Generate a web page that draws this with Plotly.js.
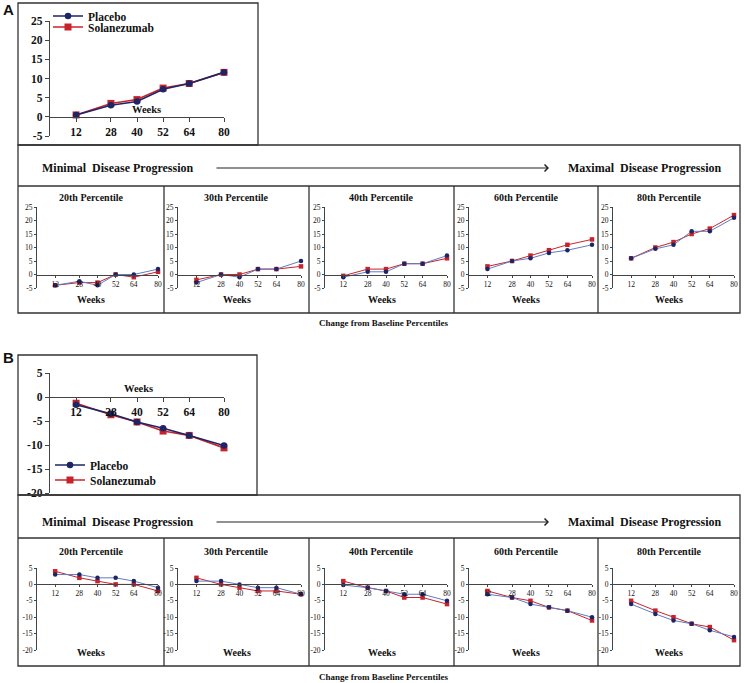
<!DOCTYPE html>
<html>
<head>
<meta charset="utf-8">
<script src="https://cdn.plot.ly/plotly-3.0.1.min.js"></script>
<style>html,body{margin:0;padding:0;background:#fff;}#chart{width:745px;height:683px;}</style>
</head>
<body>
<div id="chart"></div>
<script>
// ---------------- DATA ----------------
var weeks = [12, 28, 40, 52, 64, 80];
var seriesNames = ['Placebo', 'Solanezumab'];
var percentileTitles = ['20th Percentile', '30th Percentile', '40th Percentile', '60th Percentile', '80th Percentile'];

// Panel A (increasing)
var A_main_placebo = [0.5, 3.0, 4.0, 7.2, 8.7, 11.6];
var A_main_solan   = [0.5, 3.5, 4.5, 7.5, 8.7, 11.6];
var A_p20_placebo = [-4, -2.5, -4, 0, 0, 2];
var A_p20_solan   = [-4, -3, -3, 0, -1, 1];
var A_p30_placebo = [-3, 0, -1, 2, 2, 5];
var A_p30_solan   = [-2, 0, 0, 2, 2, 3];
var A_p40_placebo = [-1, 1, 1, 4, 4, 7];
var A_p40_solan   = [-0.5, 2, 2, 4, 4, 6];
var A_p60_placebo = [2, 5, 6, 8, 9, 11];
var A_p60_solan   = [3, 5, 7, 9, 11, 13];
var A_p80_placebo = [6, 9.5, 11, 16, 16, 21];
var A_p80_solan   = [6, 10, 12, 15, 17, 22];

// Panel B (decreasing)
var B_main_placebo = [-1.6, -3.5, -5.2, -6.5, -8.0, -10.1];
var B_main_solan   = [-1.3, -3.7, -5.2, -7.1, -8.0, -10.6];
var B_p20_placebo = [3, 3, 2, 2, 1, -1];
var B_p20_solan   = [4, 2, 1, 0, 0, -2];
var B_p30_placebo = [1, 1, 0, -1, -1, -3];
var B_p30_solan   = [2, 0, -1, -2, -2, -3];
var B_p40_placebo = [-0.2, -1, -2, -3, -3, -5];
var B_p40_solan   = [1, -1, -2, -4, -4, -6];
var B_p60_placebo = [-3, -4, -6, -7, -8, -10];
var B_p60_solan   = [-2, -4, -5, -7, -8, -11];
var B_p80_placebo = [-6, -9, -11, -12, -14, -16];
var B_p80_solan   = [-5, -8, -10, -12, -13, -17];

var A_small_placebo = [A_p20_placebo, A_p30_placebo, A_p40_placebo, A_p60_placebo, A_p80_placebo];
var A_small_solan   = [A_p20_solan, A_p30_solan, A_p40_solan, A_p60_solan, A_p80_solan];
var B_small_placebo = [B_p20_placebo, B_p30_placebo, B_p40_placebo, B_p60_placebo, B_p80_placebo];
var B_small_solan   = [B_p20_solan, B_p30_solan, B_p40_solan, B_p60_solan, B_p80_solan];

// ---------------- LAYOUT HELPERS ----------------
var W = 745, H = 683;
function px(x) { return x / W; }
function py(y) { return 1 - y / H; }
function xd(a, b) { return [px(a), px(b)]; }
function yd(top, bottom) { return [py(bottom), py(top)]; }

var NAVY = '#1c2566';
var RED = '#c8232b';
var LIGHTBLUE = '#5f7dc0';
var AXC = '#444';
var SERIF = 'Liberation Serif, Times New Roman, serif';

var smallX = [[37, 158], [178, 301], [325, 447], [469, 592], [613, 734]];
var panelL = [18, 164, 309, 454, 598, 740];

var traces = [];
var layout = {
  width: W, height: H, autosize: false,
  margin: {l: 0, r: 0, t: 0, b: 0},
  paper_bgcolor: '#fff', plot_bgcolor: 'rgba(0,0,0,0)',
  showlegend: true,
  shapes: [], annotations: [],
  font: {family: SERIF, color: '#111'}
};

var axisCount = 0;
function addAxes(xPix, yTop, yBottom, yRange, yTicks, big) {
  axisCount++;
  var n = axisCount;
  var xk = n === 1 ? 'xaxis' : 'xaxis' + n;
  var yk = n === 1 ? 'yaxis' : 'yaxis' + n;
  var xid = n === 1 ? 'x' : 'x' + n;
  var yid = n === 1 ? 'y' : 'y' + n;
  var zeroPix = yTop + (yRange[1] - 0) / (yRange[1] - yRange[0]) * (yBottom - yTop);
  layout[xk] = {
    domain: xd(xPix[0], xPix[1]), range: [0, 80], anchor: 'free', position: py(zeroPix),
    showgrid: false, zeroline: false, showline: true, linecolor: AXC, linewidth: big ? 1.3 : 1,
    ticks: 'outside', ticklen: big ? 4 : 2, tickcolor: AXC, tickwidth: 1,
    tickmode: 'array', tickvals: weeks, ticktext: weeks.map(String),
    tickfont: {family: SERIF, size: big ? 11.5 : 7.5, color: '#111', weight: big ? 'bold' : 'normal'},
    fixedrange: true
  };
  layout[yk] = {
    domain: yd(yTop, yBottom), range: yRange, anchor: xid,
    showgrid: false, zeroline: false, showline: true, linecolor: AXC, linewidth: big ? 1.3 : 1,
    ticks: 'outside', ticklen: big ? 4 : 2, tickcolor: AXC, tickwidth: 1,
    tickmode: 'array', tickvals: yTicks, ticktext: yTicks.map(String),
    tickfont: {family: SERIF, size: big ? 11.5 : 7.5, color: '#111', weight: big ? 'bold' : 'normal'},
    fixedrange: true
  };
  return {x: xid, y: yid};
}

function addMainTraces(ax, placebo, solan, legP, legS) {
  traces.push({
    x: weeks, y: solan, xaxis: ax.x, yaxis: ax.y, name: seriesNames[1], legend: legS,
    mode: 'lines+markers', line: {color: RED, width: 1.6},
    marker: {symbol: 'square', size: 7, color: RED}, cliponaxis: false
  });
  traces.push({
    x: weeks, y: placebo, xaxis: ax.x, yaxis: ax.y, name: seriesNames[0], legend: legP,
    mode: 'lines+markers', line: {color: NAVY, width: 1.6},
    marker: {symbol: 'circle', size: 6.5, color: NAVY}, cliponaxis: false
  });
}
function addSmallTraces(ax, placebo, solan) {
  traces.push({
    x: weeks, y: solan, xaxis: ax.x, yaxis: ax.y, name: seriesNames[1], showlegend: false,
    mode: 'lines+markers', line: {color: RED, width: 1},
    marker: {symbol: 'square', size: 4.5, color: RED}, cliponaxis: false
  });
  traces.push({
    x: weeks, y: placebo, xaxis: ax.x, yaxis: ax.y, name: seriesNames[0], showlegend: false,
    mode: 'lines+markers', line: {color: LIGHTBLUE, width: 1},
    marker: {symbol: 'circle', size: 4.5, color: NAVY}, cliponaxis: false
  });
}

function box(x0, y0, x1, y1, w) {
  layout.shapes.push({type: 'rect', xref: 'paper', yref: 'paper',
    x0: px(x0), x1: px(x1), y0: py(y1), y1: py(y0),
    line: {color: '#333', width: w || 1.3}, fillcolor: 'rgba(0,0,0,0)'});
}
function vline(x, y0, y1) {
  layout.shapes.push({type: 'line', xref: 'paper', yref: 'paper',
    x0: px(x), x1: px(x), y0: py(y0), y1: py(y1), line: {color: '#333', width: 1.3}});
}
function hline(x0, x1, y) {
  layout.shapes.push({type: 'line', xref: 'paper', yref: 'paper',
    x0: px(x0), x1: px(x1), y0: py(y), y1: py(y), line: {color: '#333', width: 1.3}});
}
function text(t, x, y, size, opts) {
  opts = opts || {};
  layout.annotations.push({
    text: t, xref: 'paper', yref: 'paper', x: px(x), y: py(y),
    xanchor: opts.xanchor || 'center', yanchor: 'middle', showarrow: false,
    font: {family: opts.family || SERIF, size: size, color: '#111', weight: opts.weight || 'bold'}
  });
}

// ---------------- PANEL A ----------------
text('A', 8, 9, 15, {family: 'Liberation Sans, Arial, sans-serif'});
box(18, 3, 258, 145);
var axA = addAxes([50, 224], 21, 136, [-5, 25], [-5, 0, 5, 10, 15, 20, 25], true);
addMainTraces(axA, A_main_placebo, A_main_solan, 'legend', 'legend2');
text('Weeks', 146, 110, 10.5);

box(18, 145, 740, 313);
hline(18, 740, 186);
for (var i = 1; i < 5; i++) vline(panelL[i], 186, 313);
text('Minimal  Disease Progression', 118, 168, 12);
text('Maximal  Disease Progression', 645, 168, 12);
layout.annotations.push({text: '', xref: 'paper', yref: 'paper', x: px(549), y: py(168),
  ax: -334, ay: 0, showarrow: true, arrowhead: 4, arrowsize: 1.1, arrowwidth: 1.2, arrowcolor: '#222', standoff: 0});
for (var k = 0; k < 5; k++) {
  var ax = addAxes(smallX[k], 207, 288, [-5, 25], [-5, 0, 5, 10, 15, 20, 25], false);
  addSmallTraces(ax, A_small_placebo[k], A_small_solan[k]);
  var cx = (panelL[k] + panelL[k + 1]) / 2;
  text(percentileTitles[k], cx, 198, 10);
  text('Weeks', cx, 299, 10);
}
text('Change from Baseline Percentiles', 383, 323, 9);

// ---------------- PANEL B ----------------
text('B', 8, 357, 15, {family: 'Liberation Sans, Arial, sans-serif'});
box(18, 355, 257, 495);
var axB = addAxes([50, 224], 373, 493, [-20, 5], [-20, -15, -10, -5, 0, 5], true);
addMainTraces(axB, B_main_placebo, B_main_solan, 'legend3', 'legend4');
text('Weeks', 138, 388, 10.5);

box(18, 495, 740, 666);
hline(18, 740, 538);
for (var j = 1; j < 5; j++) vline(panelL[j], 538, 666);
text('Minimal  Disease Progression', 118, 522, 12);
text('Maximal  Disease Progression', 645, 522, 12);
layout.annotations.push({text: '', xref: 'paper', yref: 'paper', x: px(549), y: py(522),
  ax: -334, ay: 0, showarrow: true, arrowhead: 4, arrowsize: 1.1, arrowwidth: 1.2, arrowcolor: '#222', standoff: 0});
for (var m = 0; m < 5; m++) {
  var axb = addAxes(smallX[m], 568, 650, [-20, 5], [-20, -15, -10, -5, 0, 5], false);
  addSmallTraces(axb, B_small_placebo[m], B_small_solan[m]);
  var cxb = (panelL[m] + panelL[m + 1]) / 2;
  text(percentileTitles[m], cxb, 551, 10);
  text('Weeks', cxb, 652, 10);
}
text('Change from Baseline Percentiles', 383, 677, 9);

// ---------------- LEGENDS ----------------
function legendAt(x, y) {
  return {x: px(x), y: py(y), xanchor: 'left', yanchor: 'middle', bgcolor: 'rgba(0,0,0,0)',
    borderwidth: 0, itemwidth: 30, tracegroupgap: 0,
    font: {family: SERIF, size: 11.5, color: '#111', weight: 'bold'}};
}
layout.legend = legendAt(48, 16);
layout.legend2 = legendAt(48, 27);
layout.legend3 = legendAt(50, 465);
layout.legend4 = legendAt(50, 480);

Plotly.newPlot('chart', traces, layout, {displayModeBar: false, staticPlot: true});
</script>
</body>
</html>
